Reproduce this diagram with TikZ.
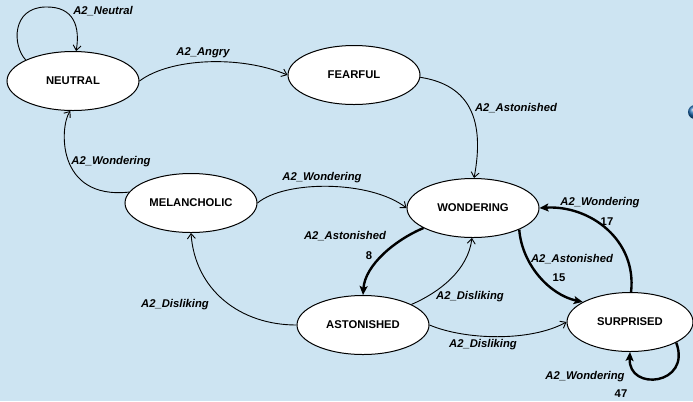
\documentclass[tikz,border=0pt]{standalone}
\usepackage{fontspec}
\setmainfont{Liberation Sans}
\usetikzlibrary{shapes.geometric,arrows.meta}
\definecolor{bg}{RGB}{205,228,242}
\definecolor{orb}{RGB}{30,105,175}
\begin{document}
\begin{tikzpicture}[x=1bp,y=-1bp,
 state/.style={ellipse,draw,fill=white,line width=1bp,minimum width=132bp,minimum height=59bp,inner sep=0pt,font=\fontsize{11.3}{13}\selectfont\bfseries},
 tr/.style={draw,line width=0.9bp,-{Straight Barb[length=5bp,width=8bp]}},
 hot/.style={draw,line width=2.4bp,-{Stealth[length=9bp,width=8bp,inset=2bp]}},
 lbl/.style={font=\fontsize{11.3}{13}\selectfont\bfseries\itshape,inner sep=0pt},
 num/.style={font=\fontsize{11.3}{13}\selectfont\bfseries,inner sep=0pt}]
\useasboundingbox (0,0) rectangle (693,401);
\fill[bg] (0,0) rectangle (693,401);
\begin{scope}
\clip (0,0) rectangle (693,401);
\shade[ball color=orb] (695,112) circle (7);
\end{scope}

\node[state] (neu) at (73,81) {NEUTRAL};
\node[state] (fea) at (354,75) {FEARFUL};
\node[state] (mel) at (191,203) {MELANCHOLIC};
\node[state] (won) at (473,208) {WONDERING};
\node[state] (ast) at (363,325) {ASTONISHED};
\node[state,minimum width=126bp] (sur) at (630,322) {SURPRISED};

\draw[tr] (neu.156) .. controls (12,45) and (12,8) .. (45,7) .. controls (75,6) and (80,28) .. (neu.84);
\draw[tr] (neu.0) .. controls (170,58) and (240,55) .. (fea.180);
\draw[tr] (fea.-2) .. controls (470,85) and (485,120) .. (won.88);
\draw[tr] (mel.170) .. controls (55,200) and (60,125) .. (neu.265);
\draw[tr] (mel.0) .. controls (285,180) and (370,180) .. (won.180);
\draw[hot] (won.202) .. controls (395,240) and (365,265) .. (ast.90);
\draw[tr] (ast.23) .. controls (440,292) and (468,270) .. (won.268);
\draw[tr] (ast.180) .. controls (240,325) and (195,290) .. (mel.270);
\draw[tr] (ast.0) .. controls (465,340) and (530,342) .. (sur.180);
\draw[hot] (won.335) .. controls (522,265) and (550,295) .. (sur.157);
\draw[hot] (sur.88) .. controls (637,240) and (590,205) .. (won.0);
\draw[hot] (sur.336) .. controls (692,385) and (628,392) .. (sur.270);

\node[lbl] (l1) at (103,11) {A2\_Neutral};
\node[lbl] (l2) at (203,53) {A2\_Angry};
\node[lbl] (l3) at (516,108) {A2\_Astonished};
\node[lbl] (l4) at (111,162) {A2\_Wondering};
\node[lbl] (l5) at (322,178) {A2\_Wondering};
\node[lbl] (l6) at (345,236) {A2\_Astonished};
\node[num] (n6) at (369,256) {8};
\node[lbl] (l7) at (175,305) {A2\_Disliking};
\node[lbl] (l8) at (470,297) {A2\_Disliking};
\node[lbl] (l9) at (483,345) {A2\_Disliking};
\node[lbl] (l10) at (600,203) {A2\_Wondering};
\node[num] (n10) at (607,222) {17};
\node[lbl] (l11) at (572,259) {A2\_Astonished};
\node[num] (n11) at (559,278) {15};
\node[lbl] (l12) at (585,377) {A2\_Wondering};
\node[num] (n12) at (621,394) {47};
\end{tikzpicture}
\end{document}
